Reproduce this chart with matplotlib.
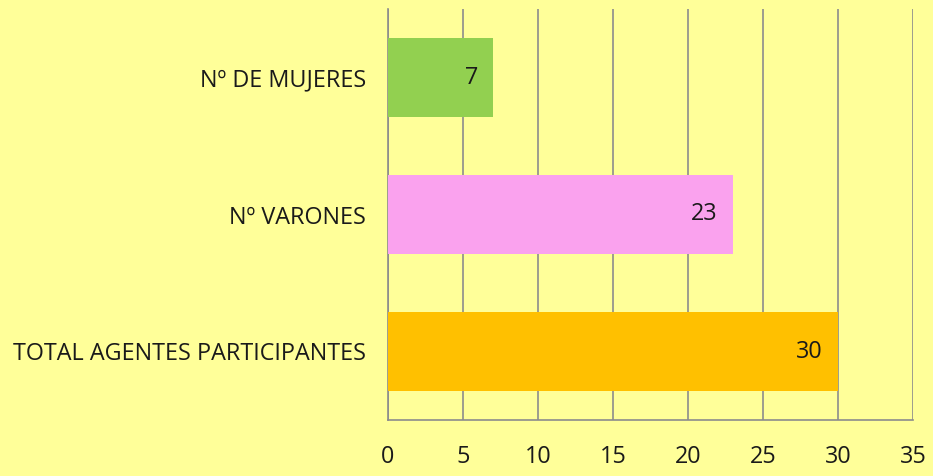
import numpy as np
import matplotlib.pyplot as plt

plt.rcParams['font.family'] = ['Open Sans', 'DejaVu Sans']

categories = ['TOTAL AGENTES PARTICIPANTES', 'Nº VARONES', 'Nº DE MUJERES']
values = [30, 23, 7]
colors = ['#FFC000', '#FAA2EE', '#92D050']
xticks = [0, 5, 10, 15, 20, 25, 30, 35]

bg = '#FFFF99'
fig = plt.figure(figsize=(9.33, 4.76), dpi=100, facecolor=bg)
ax = fig.add_axes([388 / 933, 1 - 420 / 476, 525 / 933, 411 / 476])
ax.set_facecolor(bg)

y = np.arange(len(categories))
bars = ax.barh(y, values, height=0.57, color=colors, zorder=3)
for b, v in zip(bars, values):
    ax.text(b.get_width() - 1.0, b.get_y() + b.get_height() / 2, str(v),
            ha='right', va='center', fontsize=16.8, color='#1a1a1a', zorder=4)

ax.set_xlim(0, 35)
ax.set_ylim(-0.5, 2.5)
ax.set_xticks(xticks)
ax.set_yticks(y)
ax.set_yticklabels(categories, fontsize=16.8, color='#1a1a1a')
ax.tick_params(axis='x', length=0, pad=18, labelsize=16.8, labelcolor='#1a1a1a')
ax.tick_params(axis='y', length=0, pad=16)
ax.grid(axis='x', color='#8c8c8c', lw=1.2, zorder=1)
for s in ['top', 'right']:
    ax.spines[s].set_visible(False)
ax.spines['left'].set_color('#8c8c8c')
ax.spines['bottom'].set_color('#8c8c8c')
ax.spines['left'].set_linewidth(1.2)
ax.spines['bottom'].set_linewidth(1.2)

fig.savefig('out.png', facecolor=bg)
